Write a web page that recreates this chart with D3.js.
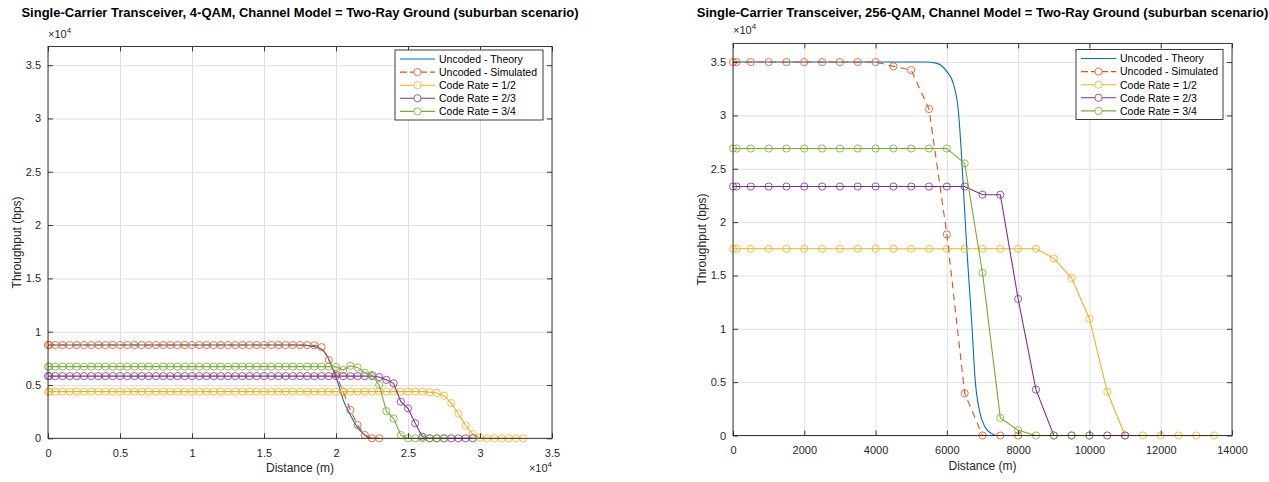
<!DOCTYPE html>
<html>
<head>
<meta charset="utf-8">
<script src="https://cdn.jsdelivr.net/npm/d3@7/dist/d3.min.js"></script>
<style>
  html, body { margin: 0; padding: 0; background: #fff; }
  svg { display: block; font-family: "Liberation Sans", Arial, Helvetica, sans-serif; }
</style>
</head>
<body>
<svg id="fig" width="1269" height="482"></svg>
<script>
// ---------- Series labels & colours ----------
const seriesNames = ["Uncoded - Theory", "Uncoded - Simulated", "Code Rate = 1/2", "Code Rate = 2/3", "Code Rate = 3/4"];
const seriesColors = ["#0072BD", "#D95319", "#EDB120", "#7E2F8E", "#77AC30"];

// ---------- 4-QAM panel ----------
const dist4 = [0,100,500,1000,1500,2000,2500,3000,3500,4000,4500,5000,5500,6000,6500,7000,7500,8000,8500,9000,9500,
  10000,10500,11000,11500,12000,12500,13000,13500,14000,14500,15000,15500,16000,16500,17000,17500,18000,18500,19000,19500,
  20000,20500,21000,21500,22000,22500,23000,23500,24000,24500,25000,25500,26000,26500,27000,27500,28000,28500,29000,29500,
  30000,30500,31000,31500,32000,32500,33000];

const theoryDist4 = [0, 17000, 17500, 18000, 18500, 19000, 19350, 19800, 20150, 20500, 21000, 21450, 22000, 22400, 23000];
const theory4     = [8750, 8750, 8740, 8700, 8600, 8350, 7810, 6400, 5160, 3600, 2190, 1090, 310, 0, 0];

const sim4 = [8750,8750,8750,8750,8750,8750,8750,8750,8750,8750,8750,8750,8750,8750,8750,8750,8750,8750,8750,8750,
  8750,8750,8750,8750,8750,8750,8750,8750,8750,8750,8750,8750,8750,8750,8750,8750,8750,8750,
  8720,8550,7340,6000,4370,2650,1250,310,0,0];

const rate12_4 = [4375,4375,4375,4375,4375,4375,4375,4375,4375,4375,4375,4375,4375,4375,4375,4375,4375,4375,4375,4375,
  4375,4375,4375,4375,4375,4375,4375,4375,4375,4375,4375,4375,4375,4375,4375,4375,4375,4375,4375,4375,
  4375,4375,4375,4375,4375,4375,4375,4375,4375,4375,4375,4375,4375,4375,
  4330,4250,4000,3300,2300,1200,400,50,0,0,0,0,0,0];

const rate23_4 = [5833,5833,5833,5833,5833,5833,5833,5833,5833,5833,5833,5833,5833,5833,5833,5833,5833,5833,5833,5833,
  5833,5833,5833,5833,5833,5833,5833,5833,5833,5833,5833,5833,5833,5833,5833,5833,5833,5833,5833,5833,
  5833,5833,5833,5833,5833,5833,5833,
  5750,5480,5160,3430,2810,1410,150,0,0,0,0,0,0,0];

const rate34_4 = [6725,6725,6725,6725,6725,6725,6725,6725,6725,6725,6725,6725,6725,6725,6725,6725,6725,6725,6725,6725,
  6725,6725,6725,6725,6725,6725,6725,6725,6725,6725,6725,6725,6725,6725,6725,6725,6725,6725,6725,6725,6725,
  6700,6400,6800,6650,6150,5950,5000,2550,1850,300,0,0,0,0,0,0];

const xTicks4 = [0, 5000, 10000, 15000, 20000, 25000, 30000, 35000];
const xTickLabels4 = ["0", "0.5", "1", "1.5", "2", "2.5", "3", "3.5"];

// ---------- 256-QAM panel ----------
const dist256 = [0,100,500,1000,1500,2000,2500,3000,3500,4000,4500,5000,5500,6000,6500,7000,7500,8000,8500,9000,9500,
  10000,10500,11000,11500,12000,12500,13000,13500];

const theoryDist256 = [0, 5400, 5700, 6000, 6180, 6320, 6420, 6500, 6560, 6630, 6700, 6790, 6930, 7070, 7250, 7400, 8000];
const theory256     = [35000, 35000, 34900, 34100, 33000, 30500, 25800, 21000, 17500, 14000, 10500, 5400, 2100, 800, 200, 0, 0];

const sim256 = [35000,35000,35000,35000,35000,35000,35000,35000,35000,35000,34600,34250,30600,18850,3950,0,0,0];

const rate12_256 = [17500,17500,17500,17500,17500,17500,17500,17500,17500,17500,17500,17500,17500,17500,17500,17500,17500,17500,17500,
  16600,14750,10950,4100,0,0,0,0,0,0];

const rate23_256 = [23333,23333,23333,23333,23333,23333,23333,23333,23333,23333,23333,23333,23333,23333,23333,
  22570,22570,12800,4300,0,0,0,0,0];

const rate34_256 = [26900,26900,26900,26900,26900,26900,26900,26900,26900,26900,26900,26900,26900,26900,
  25500,15250,1650,500,0,0,0,0];

const xTicks256 = [0, 2000, 4000, 6000, 8000, 10000, 12000, 14000];
const xTickLabels256 = ["0", "2000", "4000", "6000", "8000", "10000", "12000", "14000"];

// ---------- shared y axis ----------
const yTicks = [0, 5000, 10000, 15000, 20000, 25000, 30000, 35000];
const yTickLabels = ["0", "0.5", "1", "1.5", "2", "2.5", "3", "3.5"];
const yMax = 36750;

const svg = d3.select("#fig");
const axisColor = "#262626";

function drawPanel(p) {
  const g = svg.append("g");
  const x = d3.scaleLinear().domain(p.xDomain).range([p.left, p.right]);
  const y = d3.scaleLinear().domain([0, yMax]).range([p.bottom, p.top]);
  const w = p.right - p.left, h = p.bottom - p.top;

  // grid
  g.append("g").attr("transform", `translate(0,${p.bottom})`)
    .call(d3.axisBottom(x).tickValues(p.xTicks).tickSize(-h).tickFormat(""))
    .call(s => s.select(".domain").remove())
    .call(s => s.selectAll("line").attr("stroke", "#e0e0e0").attr("stroke-width", 1));
  g.append("g").attr("transform", `translate(${p.left},0)`)
    .call(d3.axisLeft(y).tickValues(yTicks).tickSize(-w).tickFormat(""))
    .call(s => s.select(".domain").remove())
    .call(s => s.selectAll("line").attr("stroke", "#e0e0e0").attr("stroke-width", 1));

  // series
  const clip = "clip" + p.id;
  g.append("clipPath").attr("id", clip).append("rect")
    .attr("x", p.left - 6).attr("y", p.top).attr("width", w + 12).attr("height", h + 6);
  const plot = g.append("g").attr("clip-path", `url(#${clip})`);

  const line = d3.line().x(d => x(d[0])).y(d => y(d[1]));
  const smooth = d3.line().x(d => x(d[0])).y(d => y(d[1])).curve(d3.curveMonotoneX);

  const theoryPts = p.theoryDist.map((d, i) => [d, p.theory[i]]);
  plot.append("path").attr("d", smooth(theoryPts)).attr("fill", "none")
    .attr("stroke", seriesColors[0]).attr("stroke-width", 1.1);

  const marked = [
    { vals: p.sim, color: seriesColors[1], dash: "7,5" },
    { vals: p.r12, color: seriesColors[2], dash: null },
    { vals: p.r23, color: seriesColors[3], dash: null },
    { vals: p.r34, color: seriesColors[4], dash: null }
  ];
  marked.forEach(s => {
    const pts = s.vals.map((v, i) => [p.dist[i], v]);
    const path = plot.append("path").attr("d", line(pts)).attr("fill", "none")
      .attr("stroke", s.color).attr("stroke-width", 1.1);
    if (s.dash) path.attr("stroke-dasharray", s.dash);
    plot.selectAll(null).data(pts).join("circle")
      .attr("cx", d => x(d[0])).attr("cy", d => y(d[1])).attr("r", 3.6)
      .attr("fill", "none").attr("stroke", s.color).attr("stroke-width", 0.8);
  });

  // box
  g.append("rect").attr("x", p.left).attr("y", p.top).attr("width", w).attr("height", h)
    .attr("fill", "none").attr("stroke", axisColor).attr("stroke-width", 0.9);

  // axes with inward ticks on all four sides
  const styleAxis = s => {
    s.select(".domain").remove();
    s.selectAll("line").attr("stroke", axisColor).attr("stroke-width", 0.9);
    s.selectAll("text").attr("fill", axisColor).attr("font-size", 11)
      .attr("font-family", "\"Liberation Sans\", Arial, sans-serif");
  };
  g.append("g").attr("transform", `translate(0,${p.bottom})`)
    .call(d3.axisBottom(x).tickValues(p.xTicks).tickSize(-5).tickSizeOuter(0).tickPadding(11)
      .tickFormat((d, i) => p.xTickLabels[i]))
    .call(styleAxis);
  g.append("g").attr("transform", `translate(0,${p.top})`)
    .call(d3.axisTop(x).tickValues(p.xTicks).tickSize(-5).tickSizeOuter(0).tickFormat(""))
    .call(styleAxis);
  g.append("g").attr("transform", `translate(${p.left},0)`)
    .call(d3.axisLeft(y).tickValues(yTicks).tickSize(-5).tickSizeOuter(0).tickPadding(7)
      .tickFormat((d, i) => yTickLabels[i]))
    .call(styleAxis);
  g.append("g").attr("transform", `translate(${p.right},0)`)
    .call(d3.axisRight(y).tickValues(yTicks).tickSize(-5).tickSizeOuter(0).tickFormat(""))
    .call(styleAxis);

  // exponent markers
  const expo = (tx, ty, anchor) => {
    const t = g.append("text").attr("x", tx).attr("y", ty).attr("text-anchor", anchor)
      .attr("fill", axisColor).attr("font-size", 11);
    t.append("tspan").text("\u00d710");
    t.append("tspan").attr("dy", -5).attr("font-size", 8).text("4");
  };
  expo(p.left, p.top - 9, "start");
  if (p.xExpo) expo(p.right, p.bottom + 34, "end");

  // titles and labels
  g.append("text").attr("x", (p.left + p.right) / 2).attr("y", 17).attr("text-anchor", "middle")
    .attr("font-weight", "bold").attr("font-size", 13).attr("fill", "#000").text(p.title);
  g.append("text").attr("x", (p.left + p.right) / 2).attr("y", p.bottom + 34).attr("text-anchor", "middle")
    .attr("font-size", 12).attr("fill", axisColor).text("Distance (m)");
  g.append("text").attr("transform", `translate(${p.left - 27},${(p.top + p.bottom) / 2}) rotate(-90)`)
    .attr("text-anchor", "middle").attr("font-size", 12).attr("fill", axisColor).text("Throughput (bps)");

  // legend
  const lg = g.append("g").attr("transform", `translate(${p.legX},${p.legY})`);
  lg.append("rect").attr("x", 0).attr("y", 0).attr("width", p.legW).attr("height", 70)
    .attr("fill", "#fff").attr("stroke", axisColor).attr("stroke-width", 0.9);
  seriesNames.forEach((name, i) => {
    const cy = 9 + i * 13.1;
    const ln = lg.append("line").attr("x1", 5).attr("x2", 40).attr("y1", cy).attr("y2", cy)
      .attr("stroke", seriesColors[i]).attr("stroke-width", 1.1);
    if (i === 1) ln.attr("stroke-dasharray", "7,3");
    if (i > 0) lg.append("circle").attr("cx", 22.5).attr("cy", cy).attr("r", 3.6)
      .attr("fill", "#fff").attr("stroke", seriesColors[i]).attr("stroke-width", 0.8);
    lg.append("text").attr("x", 44).attr("y", cy + 3.8).attr("font-size", 10.5)
      .attr("fill", "#000").text(name);
  });
}

drawPanel({
  id: "a", left: 48, right: 552, top: 46.5, bottom: 438.3,
  xDomain: [0, 35000], xTicks: xTicks4, xTickLabels: xTickLabels4, xExpo: true,
  dist: dist4, theoryDist: theoryDist4, theory: theory4,
  sim: sim4, r12: rate12_4, r23: rate23_4, r34: rate34_4,
  title: "Single-Carrier Transceiver, 4-QAM, Channel Model = Two-Ray Ground (suburban scenario)",
  legX: 395, legY: 50, legW: 148
});

drawPanel({
  id: "b", left: 733, right: 1232, top: 43.4, bottom: 435.5,
  xDomain: [0, 14000], xTicks: xTicks256, xTickLabels: xTickLabels256, xExpo: false,
  dist: dist256, theoryDist: theoryDist256, theory: theory256,
  sim: sim256, r12: rate12_256, r23: rate23_256, r34: rate34_256,
  title: "Single-Carrier Transceiver, 256-QAM, Channel Model = Two-Ray Ground (suburban scenario)",
  legX: 1076, legY: 49.5, legW: 147
});
</script>
</body>
</html>
